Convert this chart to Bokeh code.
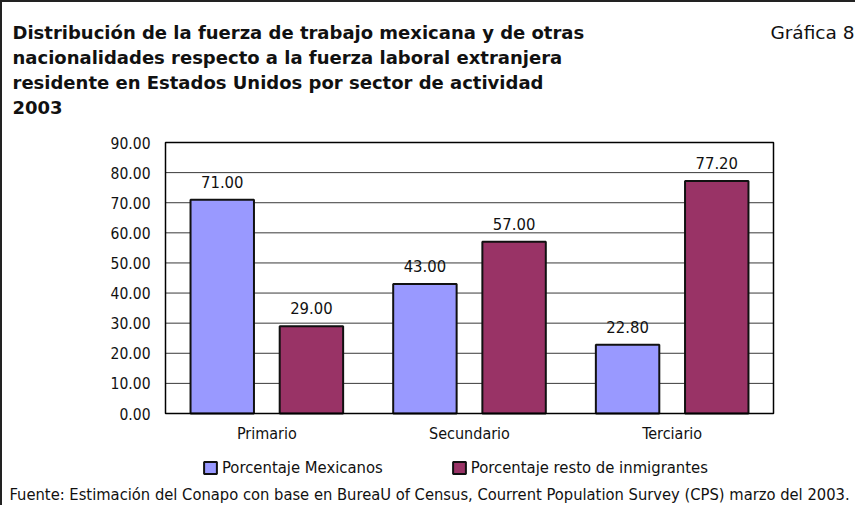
from bokeh.plotting import figure
from bokeh.models import (Range1d, ColumnDataSource, Label, Legend, LegendItem)
from bokeh.transform import dodge
from bokeh.core.properties import value
from bokeh.embed import file_html
from bokeh.resources import INLINE

# ---- data ----
sectors = ["Primario", "Secundario", "Terciario"]
mexicanos = [71.00, 43.00, 22.80]
resto = [29.00, 57.00, 77.20]
y_ticks = [0, 10, 20, 30, 40, 50, 60, 70, 80, 90]
series_names = ["Porcentaje Mexicanos", "Porcentaje resto de inmigrantes"]
title_lines = [
    "Distribución de la fuerza de trabajo mexicana y de otras",
    "nacionalidades respecto a la fuerza laboral extranjera",
    "residente en Estados Unidos por sector de actividad",
    "2003",
]
chart_number = "Gráfica 8"
source_note = ("Fuente: Estimación del Conapo con base en BureaU of Census, "
               "Courrent Population Survey (CPS) marzo del 2003.")

# ---- layout / style (pixels) ----
FONT = "DejaVu Sans Condensed"
TFONT = "DejaVu Sans"
BLUE = "#9999FF"
MAROON = "#993366"
INK = "#111111"
W, H = 855, 505
PL, PR, PT, PB = 163, 771, 140, 411      # plot-area box on the canvas

# ranges derived so that the category band / value axis fill the plot area
n = len(sectors)
x_lo, x_hi = -0.5, n - 0.5
ppx = (PR - PL) / (x_hi - x_lo)
y_lo, y_hi = y_ticks[0], y_ticks[-1]
ppy = (PB - PT) / (y_hi - y_lo)
x_range = Range1d(x_lo - PL / ppx, x_hi + (W - PR) / ppx)
y_range = Range1d(y_lo - (H - PB) / ppy, y_hi + PT / ppy)

src = ColumnDataSource(dict(
    idx=list(range(n)),
    sector=sectors,
    zero=[y_lo] * n,
    mex=mexicanos,
    resto=resto,
    mex_txt=[f"{v:.2f}" for v in mexicanos],
    resto_txt=[f"{v:.2f}" for v in resto],
))
tick_src = ColumnDataSource(dict(
    y=y_ticks,
    x0=[x_lo] * len(y_ticks),
    x1=[x_hi] * len(y_ticks),
    txt=[f"{t:.2f}" for t in y_ticks],
))

p = figure(width=W, height=H, title=None, x_range=x_range, y_range=y_range,
           x_axis_location=None, y_axis_location=None,
           output_backend="svg", toolbar_location=None,
           min_border=0, min_border_left=0, min_border_right=0,
           min_border_top=0, min_border_bottom=0)
p.grid.visible = False
p.outline_line_color = None
p.background_fill_color = "white"
p.border_fill_color = "white"

# horizontal grid lines at the value ticks
p.segment(x0="x0", x1="x1", y0="y", y1="y", source=tick_src,
          line_color="#3a3a3a", line_width=1)

# value-axis tick labels
p.text(x="x0", y="y", text="txt", source=tick_src, x_offset=-15,
       text_align="right", text_baseline="middle", text_font=value(FONT),
       text_font_size="15.5px", text_color=INK)

# bars
w = 0.313
r1 = p.vbar(x=dodge("idx", -0.22), top="mex", width=w, source=src,
            fill_color=BLUE, line_color=INK, line_width=2)
r2 = p.vbar(x=dodge("idx", 0.22), top="resto", width=w, source=src,
            fill_color=MAROON, line_color=INK, line_width=2)

# plot-area box
p.quad(left=x_lo, right=x_hi, bottom=y_lo, top=y_hi, fill_color=None,
       line_color="black", line_width=1.5)

# category labels
p.text(x="idx", y="zero", text="sector", source=src, y_offset=20,
       text_align="center", text_baseline="middle", text_font=value(FONT),
       text_font_size="16px", text_color=INK)

# value labels
for col, txt, off in (("mex", "mex_txt", -0.22), ("resto", "resto_txt", 0.22)):
    p.text(x=dodge("idx", off), y=col, text=txt, source=src,
           text_align="center", text_baseline="alphabetic", y_offset=-18,
           text_font=value(FONT), text_font_size="16.5px", text_color=INK)

legend = Legend(items=[LegendItem(label=series_names[0], renderers=[r1]),
                       LegendItem(label=series_names[1], renderers=[r2])],
                location=(200, H - 475), orientation="horizontal",
                glyph_width=16, glyph_height=15, label_standoff=4, spacing=68,
                padding=0, margin=0, border_line_color=None,
                background_fill_alpha=0, label_text_font=FONT,
                label_text_font_size="16.5px", label_text_color=INK,
                label_height=15)
p.add_layout(legend)

# title lines
baselines = [29.5, 54.5, 79.5, 104.5]
for txt, yb in zip(title_lines, baselines):
    p.add_layout(Label(x=10, y=H - yb, x_units="screen", y_units="screen",
                       text=txt, text_font=TFONT, text_font_style="bold",
                       text_font_size="18px", text_color=INK,
                       text_baseline="alphabetic", text_align="left"))
p.add_layout(Label(x=W - 3, y=H - 30, x_units="screen", y_units="screen",
                   text=chart_number, text_font=TFONT, text_font_size="18.5px",
                   text_color=INK, text_baseline="alphabetic",
                   text_align="right"))
p.add_layout(Label(x=7, y=H - 492, x_units="screen", y_units="screen",
                   text=source_note, text_font=FONT, text_font_size="16.4px",
                   text_color=INK, text_baseline="alphabetic",
                   text_align="left"))

p.styles = {"border-left": "2px solid #222222", "border-top": "2px solid #222222"}

open("out.html", "w").write(file_html(p, INLINE))
